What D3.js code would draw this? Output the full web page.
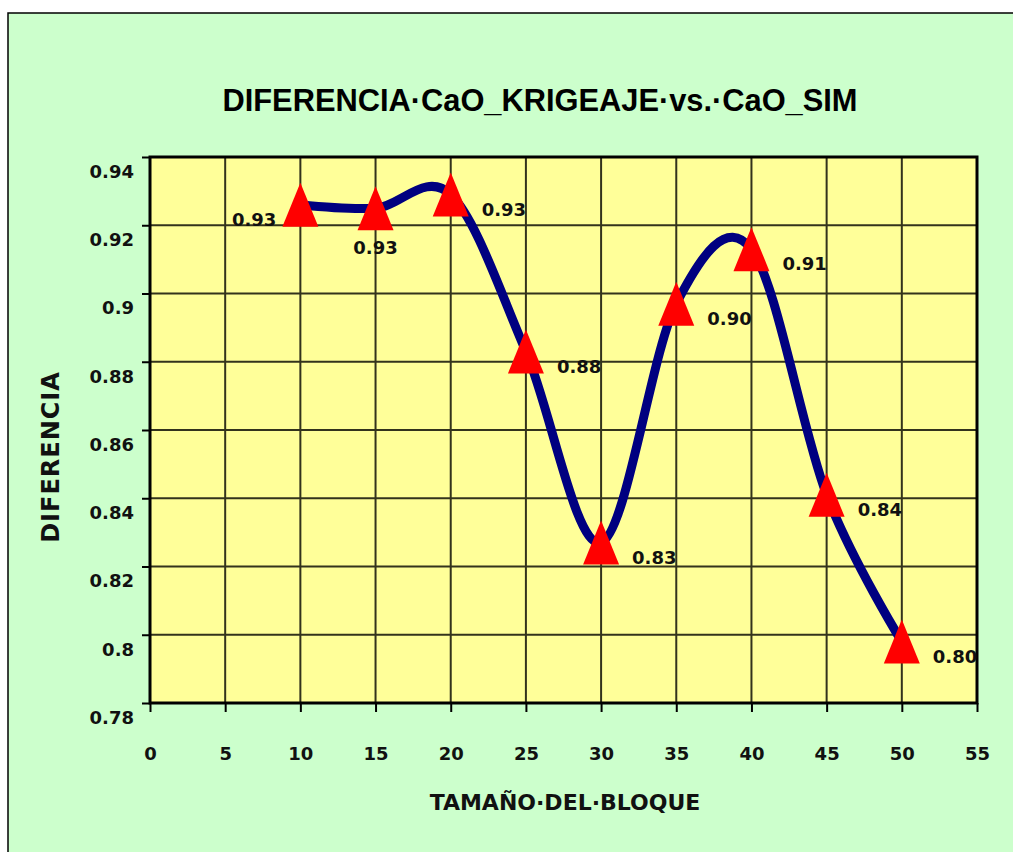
<!DOCTYPE html>
<html>
<head>
<meta charset="utf-8">
<script src="https://cdn.jsdelivr.net/npm/d3@7"></script>
<style>
  html, body { margin: 0; padding: 0; background: #ffffff; }
  svg { display: block; }
</style>
</head>
<body>
<svg id="chart" width="1013" height="852"></svg>
<script>
// ---- data ----
const blockSizes = [10, 15, 20, 25, 30, 35, 40, 45, 50];
const diffValues = [0.926, 0.925, 0.929, 0.883, 0.827, 0.897, 0.913, 0.841, 0.798];
const xTickValues = [0, 5, 10, 15, 20, 25, 30, 35, 40, 45, 50, 55];
const yTickValues = [0.78, 0.8, 0.82, 0.84, 0.86, 0.88, 0.9, 0.92, 0.94];
const yTickLabels = ["0.78", "0.8", "0.82", "0.84", "0.86", "0.88", "0.9", "0.92", "0.94"];
const titleText = "DIFERENCIA·CaO_KRIGEAJE·vs.·CaO_SIM";
const xTitleText = "TAMAÑO·DEL·BLOQUE";
const yTitleText = "DIFERENCIA";

// ---- layout ----
const svg = d3.select("#chart");
const plot = { left: 150, right: 977, top: 157, bottom: 703 };
const x = d3.scaleLinear().domain([0, 55]).range([plot.left, plot.right]);
const y = d3.scaleLinear().domain([0.78, 0.94]).range([plot.bottom, plot.top]);
const numFont = "'DejaVu Sans', Verdana, sans-serif";

// chart frame
svg.append("rect").attr("x", 8).attr("y", 13).attr("width", 1100).attr("height", 900)
  .attr("fill", "#CCFFCC").attr("stroke", "#000").attr("stroke-width", 1.5);

// plot background
svg.append("rect").attr("x", plot.left).attr("y", plot.top)
  .attr("width", plot.right - plot.left).attr("height", plot.bottom - plot.top)
  .attr("fill", "#FFFF99");

// gridlines
const grid = svg.append("g").attr("stroke", "#33331c").attr("stroke-width", 2);
grid.selectAll("line.v").data(xTickValues.slice(1, -1)).join("line")
  .attr("x1", d => x(d)).attr("x2", d => x(d)).attr("y1", plot.top).attr("y2", plot.bottom);
grid.selectAll("line.h").data(yTickValues.slice(1, -1)).join("line")
  .attr("y1", d => y(d)).attr("y2", d => y(d)).attr("x1", plot.left).attr("x2", plot.right);

// axes
const xAxis = d3.axisBottom(x).tickValues(xTickValues).tickSize(9).tickPadding(30).tickFormat(d3.format("d"));
const yAxis = d3.axisLeft(y).tickValues(yTickValues).tickSize(8).tickPadding(10)
  .tickFormat((d, i) => yTickLabels[i]);

const gx = svg.append("g").attr("transform", `translate(0,${plot.bottom})`).call(xAxis);
const gy = svg.append("g").attr("transform", `translate(${plot.left},0)`).call(yAxis);
[gx, gy].forEach(g => {
  g.select(".domain").remove();
  g.selectAll(".tick line").attr("stroke", "#000").attr("stroke-width", 2);
  g.selectAll(".tick text").attr("fill", "#111").attr("font-family", numFont)
    .attr("font-weight", "bold").attr("font-size", 18);
});
gx.selectAll(".tick text").attr("dy", "0.35em").attr("y", 51);
gy.selectAll(".tick text").attr("dy", "0.35em").attr("y", 14).attr("x", -16);

// plot border
svg.append("rect").attr("x", plot.left).attr("y", plot.top)
  .attr("width", plot.right - plot.left).attr("height", plot.bottom - plot.top)
  .attr("fill", "none").attr("stroke", "#000").attr("stroke-width", 3);

// smoothed line
const pts = blockSizes.map((b, i) => [b, diffValues[i]]);
const line = d3.line().x(d => x(d[0])).y(d => y(d[1])).curve(d3.curveCatmullRom.alpha(0));
svg.append("path").datum(pts).attr("d", line)
  .attr("fill", "none").attr("stroke", "#000080").attr("stroke-width", 9)
  .attr("stroke-linejoin", "round").attr("stroke-linecap", "round");

// triangle markers
const triW = 18, triH = 22;
svg.append("g").selectAll("path").data(pts).join("path")
  .attr("d", d => {
    const cx = x(d[0]), cy = y(d[1]);
    return `M${cx},${cy - triH}L${cx + triW},${cy + triH}L${cx - triW},${cy + triH}Z`;
  })
  .attr("fill", "#FF0000");

// data labels
const fmt = d3.format(".2f");
const placement = ["left", "below", "right", "right", "right", "right", "right", "right", "right"];
svg.append("g").selectAll("text").data(pts).join("text")
  .attr("x", (d, i) => placement[i] === "left" ? x(d[0]) - 24 : placement[i] === "below" ? x(d[0]) : x(d[0]) + 31)
  .attr("y", (d, i) => placement[i] === "below" ? y(d[1]) + 40 : y(d[1]) + 15)
  .attr("dy", "0.35em")
  .attr("text-anchor", (d, i) => placement[i] === "left" ? "end" : placement[i] === "below" ? "middle" : "start")
  .attr("font-family", numFont).attr("font-weight", "bold").attr("font-size", 18)
  .attr("fill", "#111")
  .text(d => fmt(d[1]));

// titles
svg.append("text").attr("x", 540).attr("y", 100).attr("dy", "0.35em")
  .attr("text-anchor", "middle").attr("font-family", "'Liberation Sans', Arial, sans-serif")
  .attr("font-weight", "bold").attr("font-size", 32).attr("fill", "#000")
  .attr("textLength", 635).attr("lengthAdjust", "spacingAndGlyphs")
  .text(titleText);

svg.append("text").attr("x", 565).attr("y", 802).attr("dy", "0.35em")
  .attr("text-anchor", "middle").attr("font-family", numFont)
  .attr("font-weight", "bold").attr("font-size", 22).attr("fill", "#111")
  .text(xTitleText);

svg.append("text").attr("transform", "translate(51,457) rotate(-90)").attr("dy", "0.35em")
  .attr("text-anchor", "middle").attr("font-family", numFont)
  .attr("font-weight", "bold").attr("font-size", 24).attr("letter-spacing", 1).attr("fill", "#111")
  .text(yTitleText);
</script>
</body>
</html>
